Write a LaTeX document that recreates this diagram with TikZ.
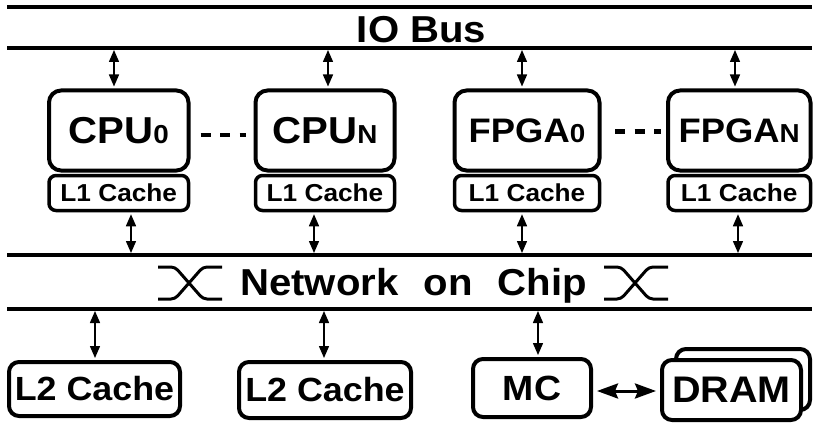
\documentclass[tikz,border=0pt]{standalone}
\usepackage{fontspec}
\setmainfont{Liberation Sans}[FakeStretch=1.07]
\usetikzlibrary{arrows.meta}
\newcommand\szBig{\fontsize{37.5pt}{40pt}\selectfont\bfseries}
\newcommand\szFp{\fontsize{34pt}{36pt}\selectfont\bfseries}
\newcommand\szLone{\fontsize{24.5pt}{26pt}\selectfont\bfseries}
\newcommand\szLtwo{\fontsize{33.5pt}{36pt}\selectfont\bfseries}
\newcommand\szMc{\fontsize{35pt}{37pt}\selectfont\bfseries}
\newcommand\szDram{\fontsize{37pt}{39pt}\selectfont\bfseries}
\newcommand\smidx[1]{{\fontsize{26pt}{28pt}\selectfont #1}}
\begin{document}
\begin{tikzpicture}[x=1pt,y=-1pt,
  busline/.style={line width=4pt},
  mainbox/.style={draw, line width=4pt, rounded corners=12pt, inner sep=0pt, minimum height=80pt},
  lonebox/.style={draw, line width=3.5pt, rounded corners=7pt, inner sep=0pt, minimum height=35pt, font=\szLone},
  lowbox/.style={draw, line width=4pt, rounded corners=10pt, inner sep=0pt, fill=white},
  bi/.style={line width=1.5pt, shorten <=2pt, shorten >=2pt,
    {Triangle[length=12pt,width=10pt]}-{Triangle[length=12pt,width=10pt]}},
  bigbi/.style={line width=3pt, shorten <=4pt, shorten >=4pt,
    {Stealth[length=21pt,width=15pt,inset=3pt]}-{Stealth[length=21pt,width=15pt,inset=3pt]}},
  dots/.style={line width=4.5pt, dash pattern=on 10pt off 9.5pt},
  switchsym/.style={line width=3pt, rounded corners=4pt}
]
\useasboundingbox (0,0) rectangle (820,428);

% IO bus
\coordinate (ioTL) at (7,7);
\coordinate (ioTR) at (812,7);
\coordinate (ioBL) at (7,48);
\coordinate (ioBR) at (812,48);
\draw[busline] (ioTL) -- (ioTR);
\draw[busline] (ioBL) -- (ioBR);
\node[font=\szBig, inner sep=0pt, anchor=base] (iobus) at (421.5,43) {IO Bus};

% Network on chip
\coordinate (nocTL) at (7,255);
\coordinate (nocTR) at (812,255);
\coordinate (nocBL) at (7,309);
\coordinate (nocBR) at (812,309);
\draw[busline] (nocTL) -- (nocTR);
\draw[busline] (nocBL) -- (nocBR);
\node[font=\szBig, inner sep=0pt, anchor=base] (noc) at (413.5,295) {Network\hspace{25pt}on\hspace{25pt}Chip};
\draw[switchsym] (158,267) -- (175,267) -- (203,299) -- (222,299);
\draw[switchsym] (158,299) -- (175,299) -- (203,267) -- (222,267);
\draw[switchsym] (604,267) -- (621,267) -- (649,299) -- (668,299);
\draw[switchsym] (604,299) -- (621,299) -- (649,267) -- (668,267);

% processors
\node[mainbox, minimum width=139.5pt, font=\szBig] (cpu0) at (118.75,130.5) {CPU\smidx{0}};
\node[mainbox, minimum width=139pt, font=\szBig] (cpuN) at (325,130.5) {CPU\smidx{N}};
\node[mainbox, minimum width=145pt, font=\szFp] (fpga0) at (527,130.5) {FPGA\smidx{0}};
\node[mainbox, minimum width=142.5pt, font=\szFp] (fpgaN) at (739.25,130.5) {FPGA\smidx{N}};

\node[lonebox, minimum width=139.5pt] (lc0) at (118.75,193) {L1 Cache};
\node[lonebox, minimum width=139pt] (lcN) at (325,193) {L1 Cache};
\node[lonebox, minimum width=145pt] (lf0) at (527,193) {L1 Cache};
\node[lonebox, minimum width=142.5pt] (lfN) at (739.25,193) {L1 Cache};

\draw[dots, shorten <=10pt, shorten >=7.5pt] ([yshift=-4.5pt]cpu0.east) -- ([yshift=-4.5pt]cpuN.west);
\draw[dots, shorten <=13.5pt, shorten >=5pt] ([yshift=-1pt]fpga0.east) -- ([yshift=-1pt]fpgaN.west);

% arrows to IO bus
\draw[bi] ([xshift=-4.75pt]cpu0.north) -- ([xshift=-4.75pt]cpu0.north |- ioBL);
\draw[bi] ([xshift=3pt]cpuN.north) -- ([xshift=3pt]cpuN.north |- ioBL);
\draw[bi] ([xshift=-5pt]fpga0.north) -- ([xshift=-5pt]fpga0.north |- ioBL);
\draw[bi] ([xshift=-4.25pt]fpgaN.north) -- ([xshift=-4.25pt]fpgaN.north |- ioBL);

% arrows to NoC
\draw[bi] ([xshift=12.25pt]lc0.south) -- ([xshift=12.25pt]lc0.south |- nocTL);
\draw[bi] ([xshift=-11pt]lcN.south) -- ([xshift=-11pt]lcN.south |- nocTL);
\draw[bi] ([xshift=-5pt]lf0.south) -- ([xshift=-5pt]lf0.south |- nocTL);
\draw[bi] ([xshift=-1.25pt]lfN.south) -- ([xshift=-1.25pt]lfN.south |- nocTL);

% lower row
\node[lowbox, minimum width=171pt, minimum height=54pt, font=\szLtwo] (ltwoA) at (94.5,389) {L2 Cache};
\node[lowbox, minimum width=172pt, minimum height=56pt, font=\szLtwo] (ltwoB) at (325,390) {L2 Cache};
\node[lowbox, minimum width=118pt, minimum height=58pt, font=\szMc] (mc) at (532,388) {MC};
\node[lowbox, minimum width=134pt, minimum height=61pt] (dramb) at (743,379.5) {};
\node[lowbox, minimum width=139pt, minimum height=60pt, font=\szDram] (dram) at (731.5,390) {DRAM};

\draw[bi] ([xshift=0.5pt]ltwoA.north) -- ([xshift=0.5pt]ltwoA.north |- nocBL);
\draw[bi] ([xshift=-1pt]ltwoB.north) -- ([xshift=-1pt]ltwoB.north |- nocBL);
\draw[bi] ([xshift=6pt]mc.north) -- ([xshift=6pt]mc.north |- nocBL);

\draw[bigbi] ([yshift=-3pt]mc.east) -- ([yshift=-3pt]mc.east -| dram.west);
\end{tikzpicture}
\end{document}
